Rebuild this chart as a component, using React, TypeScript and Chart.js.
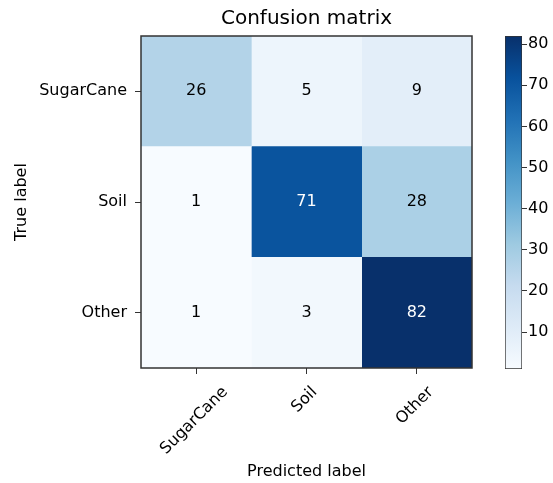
import React, { useEffect, useRef } from "react";
import { Chart, registerables } from "chart.js";

Chart.register(...registerables);

const chartTitle = "Confusion matrix";
const trueLabels = ["SugarCane", "Soil", "Other"];
const predictedLabels = ["SugarCane", "Soil", "Other"];
const rowSugarCane = [26, 5, 9];
const rowSoil = [1, 71, 28];
const rowOther = [1, 3, 82];
const matrix = [rowSugarCane, rowSoil, rowOther];
const colorbarTicks = [10, 20, 30, 40, 50, 60, 70, 80];
const xAxisTitle = "Predicted label";
const yAxisTitle = "True label";
const bluesStops = [
  "#f7fbff",
  "#deebf7",
  "#c6dbef",
  "#9ecae1",
  "#6baed6",
  "#4292c6",
  "#2171b5",
  "#08519c",
  "#08306b",
];

const FONT = "'DejaVu Sans', sans-serif";
const allValues = matrix.flat();
const vmin = Math.min(...allValues);
const vmax = Math.max(...allValues);

function hexToRgb(h: string) {
  const n = parseInt(h.slice(1), 16);
  return [(n >> 16) & 255, (n >> 8) & 255, n & 255];
}

function cmap(v: number) {
  const t = Math.max(0, Math.min(1, (v - vmin) / (vmax - vmin)));
  const p = t * (bluesStops.length - 1);
  const i = Math.min(Math.floor(p), bluesStops.length - 2);
  const f = p - i;
  const a = hexToRgb(bluesStops[i]);
  const b = hexToRgb(bluesStops[i + 1]);
  const c = a.map((x, k) => Math.round(x + (b[k] - x) * f));
  return `rgb(${c[0]},${c[1]},${c[2]})`;
}

const cellTextPlugin = {
  id: "cellText",
  afterDatasetsDraw(chart: any) {
    const { ctx, scales } = chart;
    const xs = scales.x;
    const ys = scales.y;
    ctx.save();
    ctx.font = `16px ${FONT}`;
    ctx.textAlign = "center";
    ctx.textBaseline = "middle";
    const thresh = vmax / 2;
    matrix.forEach((row, i) => {
      row.forEach((v, j) => {
        const x = xs.getPixelForValue(j + 0.5);
        const y = ys.getPixelForValue(i);
        ctx.fillStyle = v > thresh ? "#ffffff" : "#000000";
        ctx.fillText(String(v), x, y);
      });
    });
    const ca = chart.chartArea;
    ctx.strokeStyle = "#333";
    ctx.lineWidth = 1.5;
    ctx.strokeRect(ca.left, ca.top, ca.right - ca.left, ca.bottom - ca.top);
    ctx.restore();
  },
};

const xLabelPlugin = {
  id: "xLabels",
  afterDraw(chart: any) {
    const { ctx, scales } = chart;
    const xs = scales.x;
    ctx.save();
    ctx.font = `16px ${FONT}`;
    ctx.fillStyle = "#000";
    ctx.textAlign = "center";
    ctx.textBaseline = "middle";
    predictedLabels.forEach((lab, j) => {
      const w = ctx.measureText(lab).width;
      const H = (w + 16) * Math.SQRT1_2;
      const x = xs.getPixelForValue(j + 0.5) - 2;
      const y = xs.top + 6 + 10 + H / 2;
      ctx.save();
      ctx.translate(x, y);
      ctx.rotate(-Math.PI / 4);
      ctx.fillText(lab, 0, 0);
      ctx.restore();
    });
    ctx.restore();
  },
};

export default function App() {
  const mainRef = useRef<HTMLCanvasElement>(null);
  const barRef = useRef<HTMLCanvasElement>(null);

  useEffect(() => {
    Chart.defaults.font.family = FONT;
    Chart.defaults.color = "#000";

    const main = new Chart(mainRef.current as HTMLCanvasElement, {
      type: "bar",
      data: {
        labels: trueLabels,
        datasets: predictedLabels.map((p, j) => ({
          label: p,
          data: trueLabels.map(() => [j, j + 1]),
          backgroundColor: matrix.map((row) => cmap(row[j])),
          borderWidth: 0,
          barPercentage: 1,
          categoryPercentage: 1,
          grouped: false,
        })),
      } as any,
      options: {
        indexAxis: "y",
        responsive: false,
        animation: false,
        layout: { padding: { left: 0, right: 81, top: 0, bottom: 0 } },
        plugins: {
          legend: { display: false },
          tooltip: { enabled: false },
          title: {
            display: true,
            fullSize: false,
            text: chartTitle,
            color: "#000",
            font: { size: 20, weight: "normal", family: FONT },
            padding: { top: 7, bottom: 5 },
          },
        },
        scales: {
          x: {
            type: "linear",
            min: 0,
            max: 3,
            position: "bottom",
            afterBuildTicks: (s: any) => {
              s.ticks = predictedLabels.map((_, j) => ({ value: j + 0.5 }));
            },
            afterFit: (s: any) => {
              s.height = 115;
            },
            grid: { drawOnChartArea: false, drawTicks: true, tickLength: 6, color: "#333" },
            border: { display: false },
            ticks: { display: false },
            title: {
              display: true,
              text: xAxisTitle,
              color: "#000",
              font: { size: 16, family: FONT },
              padding: { top: 0, bottom: 2 },
            },
          },
          y: {
            type: "category",
            offset: true,
            afterFit: (s: any) => {
              s.width = 141;
            },
            grid: { offset: false, drawOnChartArea: false, drawTicks: true, tickLength: 6, color: "#333" },
            border: { display: false },
            ticks: { font: { size: 16, family: FONT }, color: "#000", padding: 8 },
            title: {
              display: true,
              text: yAxisTitle,
              color: "#000",
              font: { size: 16, family: FONT },
              padding: { top: 12, bottom: 0 },
            },
          },
        },
      } as any,
      plugins: [cellTextPlugin, xLabelPlugin],
    });

    const bar = new Chart(barRef.current as HTMLCanvasElement, {
      type: "bar",
      data: {
        labels: [""],
        datasets: [
          {
            data: [[vmin, vmax]],
            backgroundColor: (c: any) => {
              const ca = c.chart.chartArea;
              if (!ca) return bluesStops[4];
              const g = c.chart.ctx.createLinearGradient(0, ca.bottom, 0, ca.top);
              bluesStops.forEach((s, i) => g.addColorStop(i / (bluesStops.length - 1), s));
              return g;
            },
            borderColor: "#333",
            borderWidth: 1,
            borderSkipped: false,
            barPercentage: 1,
            categoryPercentage: 1,
          },
        ],
      } as any,
      options: {
        responsive: false,
        animation: false,
        layout: { padding: { left: 505, right: 0, top: 36, bottom: 114 } },
        plugins: { legend: { display: false }, tooltip: { enabled: false } },
        scales: {
          x: { display: false },
          y: {
            position: "right",
            min: vmin,
            max: vmax,
            afterBuildTicks: (s: any) => {
              s.ticks = colorbarTicks.map((v) => ({ value: v }));
            },
            afterFit: (s: any) => {
              s.width = 31;
            },
            grid: { drawOnChartArea: false, drawTicks: true, tickLength: 5, color: "#333" },
            border: { display: false },
            ticks: { font: { size: 16, family: FONT }, color: "#000", padding: 1 },
          },
        },
      } as any,
    });

    return () => {
      main.destroy();
      bar.destroy();
    };
  }, []);

  return (
    <div style={{ position: "absolute", left: 0, top: 0, width: 553, height: 483, background: "#fff" }}>
      <canvas ref={mainRef} width={553} height={483} style={{ position: "absolute", left: 0, top: 0 }} />
      <canvas ref={barRef} width={553} height={483} style={{ position: "absolute", left: 0, top: 0 }} />
    </div>
  );
}
